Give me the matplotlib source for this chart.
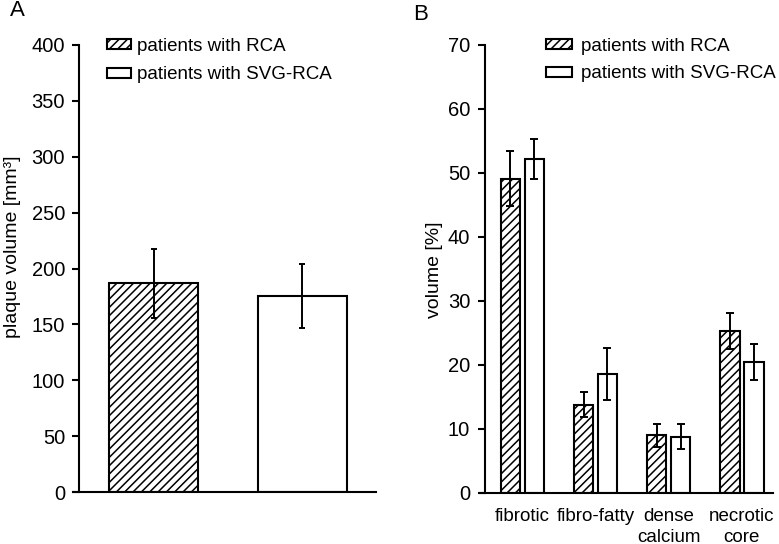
import numpy as np
import matplotlib
matplotlib.use('Agg')
import matplotlib.pyplot as plt

plt.rcParams['font.family'] = ['Liberation Sans', 'DejaVu Sans']
plt.rcParams['hatch.linewidth'] = 1.1
plt.rcParams['font.size'] = 13.5

# panel A : total plaque volume
groupes = ['patients with RCA', 'patients with SVG-RCA']
volume_a = [186.6, 175.2]
erreur_a = [30.6, 28.4]

# panel B : composition
categories = ['fibrotic', 'fibro-fatty', 'dense\ncalcium', 'necrotic\ncore']
rca_b = [49.1, 13.8, 9.0, 25.3]
rca_err_b = [4.35, 2.0, 1.85, 2.85]
svg_b = [52.2, 18.6, 8.8, 20.5]
svg_err_b = [3.15, 4.1, 2.0, 2.8]

W, H = 779, 544
fig = plt.figure(figsize=(W / 100, H / 100), dpi=100)


def axes_px(x0, x1, ytop, ybot):
    # position des axes en pixels de l'image
    return fig.add_axes([x0 / W, 1 - ybot / H, (x1 - x0) / W, (ybot - ytop) / H])


hachures = ['////', '']
lw = 1.5
taille_ticks = 14.5

# ---------------- Panel A ----------------
axA = axes_px(73, 376, 45, 492)
for i in range(len(groupes)):
    axA.bar(i, volume_a[i], width=0.6, color='white', edgecolor='black',
            hatch=hachures[i], linewidth=lw, label=groupes[i], zorder=2)
axA.errorbar(np.arange(len(groupes)), volume_a, yerr=erreur_a, fmt='none',
             ecolor='black', elinewidth=1.4, capsize=2.5, capthick=1.4, zorder=3)
axA.set_xlim(-0.546, 1.497)
axA.set_ylim(0, 400)
axA.set_yticks(np.arange(0, 401, 50))
axA.set_xticks([])
axA.spines['top'].set_visible(False)
axA.spines['right'].set_visible(False)
axA.spines['left'].set_position(('data', -0.506))
for s in ['left', 'bottom']:
    axA.spines[s].set_linewidth(lw)
axA.tick_params(axis='y', length=5, width=lw, pad=5, labelsize=taille_ticks)
fig.text(13 / W, 1 - 247 / H, 'plaque volume [mm³]', rotation=90,
         ha='center', va='center', fontsize=14)
axA.legend(loc='upper left', bbox_to_anchor=(107 / W, 1 - 38 / H),
           bbox_transform=fig.transFigure, frameon=False, borderpad=0,
           handlelength=1.3, handleheight=0.45, handletextpad=0.3,
           labelspacing=0.6, fontsize=13.5, borderaxespad=0)

# ---------------- Panel B ----------------
axB = axes_px(480, 773, 44.7, 493)
x = np.arange(len(categories))
d = 0.164
axB.bar(x - d, rca_b, width=0.27, color='white', edgecolor='black',
        hatch='////', linewidth=lw, label=groupes[0], zorder=2)
axB.bar(x + d, svg_b, width=0.27, color='white', edgecolor='black',
        linewidth=lw, label=groupes[1], zorder=2)
axB.errorbar(x - d, rca_b, yerr=rca_err_b, fmt='none', ecolor='black',
             elinewidth=1.4, capsize=3, capthick=1.4, zorder=3)
axB.errorbar(x + d, svg_b, yerr=svg_err_b, fmt='none', ecolor='black',
             elinewidth=1.4, capsize=3, capthick=1.4, zorder=3)
axB.set_xlim(-0.58, 3.428)
axB.set_ylim(0, 70)
axB.set_yticks(np.arange(0, 71, 10))
axB.set_xticks(x)
axB.set_xticklabels(categories, linespacing=1.3)
axB.spines['top'].set_visible(False)
axB.spines['right'].set_visible(False)
axB.spines['left'].set_position(('data', -0.505))
for s in ['left', 'bottom']:
    axB.spines[s].set_linewidth(lw)
axB.tick_params(axis='y', length=5, width=lw, pad=6, labelsize=taille_ticks)
axB.tick_params(axis='x', length=0, pad=11, labelsize=13.5)
fig.text(434 / W, 1 - 270 / H, 'volume [%]', rotation=90,
         ha='center', va='center', fontsize=14)
axB.legend(loc='upper left', bbox_to_anchor=(546 / W, 1 - 38 / H),
           bbox_transform=fig.transFigure, frameon=False, borderpad=0,
           handlelength=1.4, handleheight=0.45, handletextpad=0.45,
           labelspacing=0.55, fontsize=13.5, borderaxespad=0)

fig.text(10 / W, 1 - 11 / H, 'A', fontsize=16, ha='left', va='center')
fig.text(413 / W, 1 - 15 / H, 'B', fontsize=16, ha='left', va='center')

fig.savefig('out.png', dpi=100, facecolor='white')
